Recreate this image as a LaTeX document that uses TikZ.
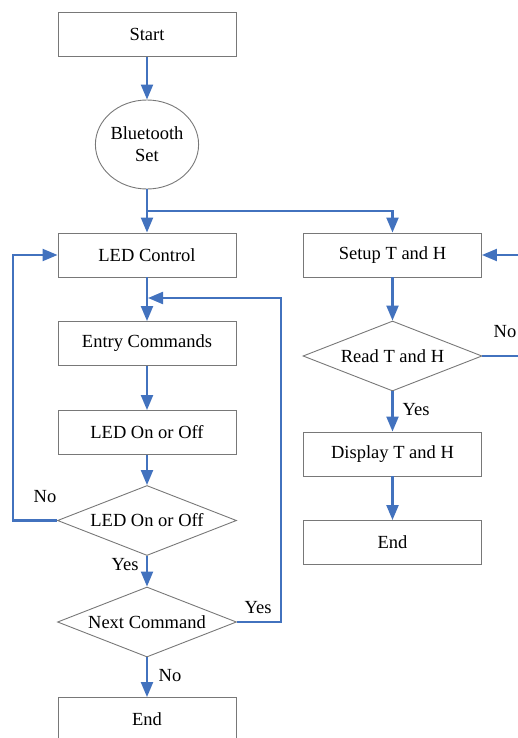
\documentclass[tikz,border=0pt]{standalone}
\usepackage{fontspec}
\setmainfont{Liberation Serif}
\usetikzlibrary{shapes.geometric,arrows.meta}
\definecolor{flow}{RGB}{66,114,190}
\definecolor{edge}{RGB}{120,120,120}
\tikzset{
  base/.style={font=\fontsize{18.5}{22}\selectfont, draw=edge, line width=0.9pt, inner sep=0pt, align=center},
  procbox/.style={base, rectangle, minimum width=178pt, minimum height=44pt},
  oval/.style={base, ellipse, minimum width=100pt, minimum height=89pt},
  decide/.style={base, diamond, aspect=2.55, minimum width=179pt, minimum height=70pt},
  flowline/.style={draw=flow, line width=2.2pt},
  flowarrow/.style={flowline, -{Triangle[length=15pt,width=12pt]}},
  lbl/.style={font=\fontsize{18.5}{22}\selectfont, inner sep=0pt}
}
\begin{document}
\begin{tikzpicture}[x=1pt,y=-1pt]
\useasboundingbox (0,0) rectangle (518,738);
% left column
\node[procbox] (start) at (147,34.5) {Start};
\node[oval] (bt) at (147,144.5) {Bluetooth\\Set};
\node[procbox] (led) at (147,255) {LED Control};
\node[procbox] (entry) at (147,343.5) {Entry Commands};
\node[procbox] (onoff) at (147,432.5) {LED On or Off};
\node[decide] (dec1) at (147,520.5) {LED On or Off};
\node[decide] (dec2) at (147,622) {Next Command};
\node[procbox] (end1) at (147,719.5) {End};
% right column
\node[procbox] (setup) at (392.5,255) {Setup T and H};
\node[decide] (read) at (392.5,356) {Read T and H};
\node[procbox] (disp) at (392.5,454) {Display T and H};
\node[procbox] (end2) at (392.5,542.5) {End};
% coordinates
\coordinate (split) at (147,211);
\coordinate (join) at (147,298);
\coordinate (loopL) at (13,520.5);
\coordinate (loopR) at (281,622);
\coordinate (loopRR) at (530,356);
% connectors
\draw[flowarrow] (start) -- (bt);
\draw[flowarrow] (bt) -- (led);
\draw[flowarrow] (split) -| (setup.north);
\draw[flowarrow] (led) -- (entry);
\draw[flowarrow] (entry) -- (onoff);
\draw[flowarrow] (onoff) -- (dec1);
\draw[flowarrow] (dec1) -- (dec2);
\draw[flowarrow] (dec2) -- (end1);
\draw[flowarrow] (dec1.west) -- (loopL) |- (led.west);
\draw[flowarrow] (dec2.east) -- (loopR) |- ([xshift=1pt]join);
\draw[flowarrow] (setup) -- (read);
\draw[flowarrow] (read) -- (disp);
\draw[flowarrow] (disp) -- (end2);
\draw[flowarrow] (read.east) -- (loopRR) |- (setup.east);
% labels
\node[lbl] at (45,497) {No};
\node[lbl] at (125,564.5) {Yes};
\node[lbl] at (258,608) {Yes};
\node[lbl] at (170,675.5) {No};
\node[lbl] at (505,332) {No};
\node[lbl] at (416,410) {Yes};
\end{tikzpicture}
\end{document}
